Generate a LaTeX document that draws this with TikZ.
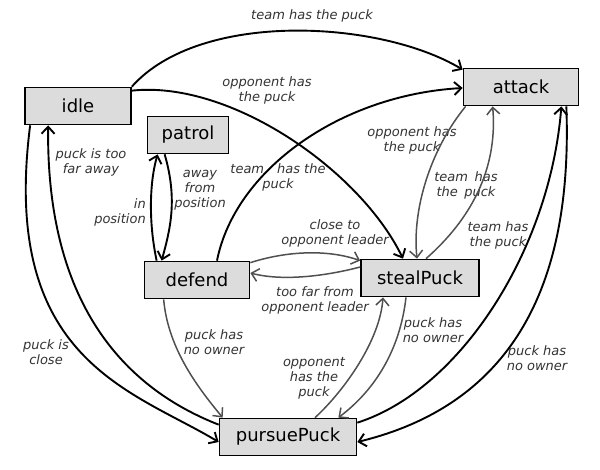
\documentclass[tikz,border=0pt]{standalone}
\usepackage{fontspec}
\setmainfont{DejaVu Sans}
\usetikzlibrary{arrows.meta}
\definecolor{boxgray}{HTML}{DCDCDC}
\definecolor{textgray}{HTML}{333333}
\definecolor{wiregray}{HTML}{505050}

\begin{document}
\begin{tikzpicture}[x=1pt,y=-1pt,>={Straight Barb[length=7pt,width=13pt]},
	state/.style={rectangle,draw,fill=boxgray,line width=1.7pt,inner sep=0pt,minimum height=37pt,font=\fontsize{18}{21}\selectfont},
	lbl/.style={align=center,text=textgray,inner sep=0pt,font=\fontsize{13}{15}\selectfont\itshape},
	link/.style={->,line width=1.9pt},
	soft/.style={->,line width=1.5pt,draw=wiregray}]
		\useasboundingbox (0,0) rectangle (600,470);

		\node[state,minimum width=106pt] (idle) at (78,106) {idle};
		\node[state,minimum width=81pt] (patrol) at (188,135) {patrol};
		\node[state,minimum width=115pt] (attack) at (521,87) {attack};
		\node[state,minimum width=105pt] (defend) at (197,280) {defend};
		\node[state,minimum width=118pt] (steal) at (420,278) {stealPuck};
		\node[state,minimum width=137pt] (pursue) at (288,437) {pursuePuck};

		\node[lbl] (l1) at (312,16) {team has the puck};
		\node[lbl] (l2) at (267,90) {opponent has\\the puck};
		\node[lbl] (l3) at (91,162) {puck is too\\far away};
		\node[lbl] (l4) at (46,352) {puck is\\close};
		\node[lbl,align=right] (l5) at (120,212) {in\\position};
		\node[lbl] (l6) at (200,190) {away\\from\\position};
		\node[lbl] (l7) at (278,177) {team\quad has the\\puck};
		\node[lbl] (l8) at (335,233) {close to\\opponent leader};
		\node[lbl] (l9) at (315,300) {too far from\\opponent leader};
		\node[lbl] (l10) at (412,140) {opponent has\\the puck};
		\node[lbl] (l11) at (466,185) {team\enspace has\\the\enspace puck};
		\node[lbl] (l12) at (498,235) {team has\\the puck};
		\node[lbl] (l13) at (537,358) {puck has\\no owner};
		\node[lbl] (l14) at (433,330) {puck has\\no owner};
		\node[lbl] (l15) at (314,378) {opponent\\has the\\puck};
		\node[lbl] (l16) at (214,342) {puck has\\no owner};

		\draw[link] (idle.north east) .. controls (200,10) and (380,20) .. ([yshift=-2pt]attack.north west);
		\draw[link] ([yshift=-4pt]idle.north east) .. controls (230,80) and (360,170) .. ([xshift=-17pt]steal.north);
		\draw[link] ([xshift=6pt]idle.south west) .. controls (0,360) and (132,390) .. ([yshift=-5pt]pursue.west);
		\draw[link] ([yshift=-7pt]pursue.north west) .. controls (130,390) and (46,310) .. ([xshift=24pt]idle.south west);
		\draw[link] ([xshift=18pt]patrol.south west) .. controls (178,200) and (170,230) .. ([xshift=18pt]defend.north west);
		\draw[link] ([xshift=13pt]defend.north west) .. controls (148,220) and (150,180) .. ([xshift=11pt]patrol.south west);
		\draw[link] ([xshift=20pt]defend.north) .. controls (235,170) and (340,95) .. ([yshift=-1pt]attack.west);
		\draw[link] ([yshift=-5pt]pursue.north east) .. controls (460,390) and (550,250) .. ([xshift=-18pt]attack.south east);
		\draw[link] ([xshift=-13pt]attack.south east) .. controls (572,260) and (530,400) .. ([yshift=-5pt]pursue.east);

		\draw[soft] ([yshift=-2pt]defend.north east) .. controls (290,250) and (330,250) .. ([yshift=-2pt]steal.north west);
		\draw[soft] ([yshift=11pt]steal.west) .. controls (330,275) and (285,282) .. ([yshift=7pt]defend.east);
		\draw[soft] ([xshift=3pt]attack.south west) .. controls (430,150) and (412,210) .. ([xshift=-3pt]steal.north);
		\draw[soft] ([xshift=6pt]steal.north) .. controls (470,220) and (498,170) .. ([xshift=30pt]attack.south west);
		\draw[soft] ([xshift=-14pt]steal.south) .. controls (400,350) and (375,390) .. ([xshift=-19pt]pursue.north east);
		\draw[soft] ([xshift=27pt]pursue.north) .. controls (345,390) and (380,340) .. ([xshift=-37pt]steal.south);
		\draw[soft] ([xshift=20pt]defend.south west) .. controls (168,350) and (200,390) .. ([xshift=4pt]pursue.north west);
	\end{tikzpicture}
\end{document}
